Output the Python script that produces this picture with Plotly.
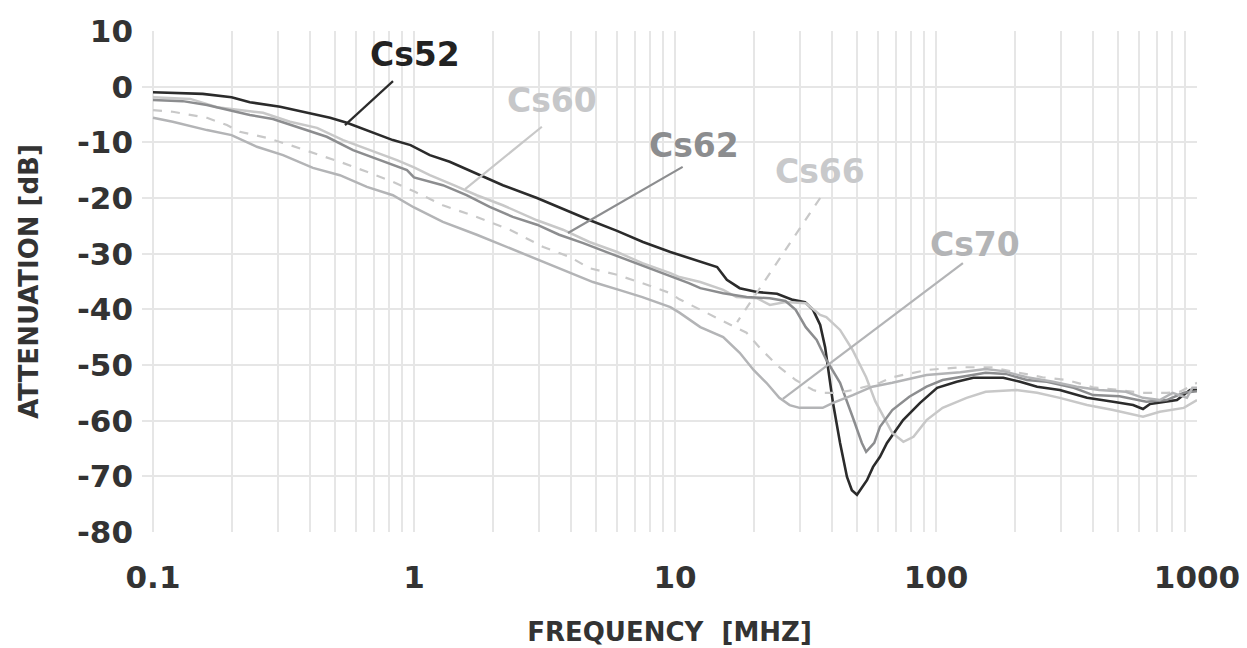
import math
import plotly.graph_objects as go

# ---------------- data ----------------
f_cs52 = [0.1, 0.155, 0.2, 0.235, 0.307, 0.376, 0.477, 0.553, 0.697, 0.83, 0.97, 1.15, 1.37, 1.68,
          2.19, 2.96, 3.72, 4.72, 6.0, 7.54, 9.6, 11.4, 12.5, 14.5, 15.8, 17.7, 20.6, 24.6, 28.3,
          31.5, 33.8, 36.0, 37.6, 38.6, 40.3, 42.9, 45.6, 47.6, 49.8, 54.4, 57.4, 61, 64.9, 74.8,
          86.9, 101, 120, 139, 181, 210, 244, 298, 379, 477, 569, 621, 661, 838, 940, 1000]
v_cs52 = [-1.0, -1.3, -1.9, -2.8, -3.6, -4.5, -5.6, -6.5, -8.3, -9.6, -10.5, -12.3, -13.5, -15.3,
          -17.7, -20.0, -22.0, -24.0, -25.9, -27.9, -29.7, -30.8, -31.5, -32.4, -34.7, -36.2, -36.9,
          -37.2, -38.3, -38.7, -40.1, -42.8, -46.8, -50.9, -56.8, -64.0, -70.1, -72.5, -73.3, -70.7,
          -68.3, -66.5, -64.0, -59.9, -56.8, -54.1, -53.0, -52.3, -52.3, -53.0, -53.9, -54.5, -55.9,
          -56.6, -57.2, -57.9, -57.0, -56.3, -54.5, -54.5]

f_cs60 = [0.1, 0.139, 0.176, 0.215, 0.264, 0.335, 0.425, 0.535, 0.68, 0.86, 1.0, 1.15, 1.42, 1.74,
          2.19, 2.96, 3.72, 4.7, 6.0, 7.5, 9.6, 10.4, 12.5, 15.3, 17.2, 20.6, 23.1, 26.5, 31.7, 36,
          38, 42.9, 47.9, 54, 58.5, 68, 75, 82, 92, 106, 131, 155, 203, 244, 298, 379, 477, 621,
          720, 890, 1000]
v_cs60 = [-1.9, -2.2, -3.7, -4.2, -4.7, -6.3, -7.4, -9.6, -11.4, -13.2, -14.5, -15.9, -17.7, -19.5,
          -21.3, -24.0, -25.7, -27.9, -29.7, -31.7, -33.5, -34.2, -35.1, -36.5, -37.8, -38.0, -39.2,
          -38.7, -38.9, -41.0, -41.4, -43.7, -47.3, -52.2, -56.5, -62.2, -63.8, -62.9, -59.9, -57.7,
          -55.9, -54.8, -54.5, -55.0, -55.9, -57.2, -58.1, -59.3, -58.4, -57.7, -56.3]

f_cs62 = [0.1, 0.13, 0.161, 0.192, 0.235, 0.288, 0.365, 0.463, 0.584, 0.741, 0.94, 1.0, 1.29, 1.59,
          1.95, 2.39, 2.96, 3.6, 4.45, 5.6, 7.1, 9.0, 11.3, 12.5, 15.3, 18.8, 23.1, 26.5, 29, 31.7,
          34.9, 38, 42.9, 47.9, 52, 54, 58, 61, 68, 79, 92, 106, 124, 155, 185, 223, 266, 337, 400,
          505, 640, 765, 890, 1000]
v_cs62 = [-2.4, -2.6, -3.3, -4.2, -5.1, -5.8, -7.4, -9.0, -11.4, -13.2, -15.0, -16.3, -17.7, -19.5,
          -21.6, -23.4, -24.8, -26.6, -28.1, -29.9, -31.7, -33.5, -35.3, -36.2, -37.1, -37.8, -38.0,
          -38.5, -40.1, -43.2, -45.5, -49.1, -53.2, -59.3, -64.0, -65.6, -64.0, -61.1, -58.1, -55.7,
          -53.9, -52.7, -52.2, -51.4, -51.6, -52.7, -53.0, -54.1, -55.4, -55.6, -56.6, -56.3, -55.0,
          -54.7]

f_cs66 = [0.1, 0.119, 0.161, 0.192, 0.215, 0.273, 0.335, 0.41, 0.52, 0.66, 0.83, 1.0, 1.29, 1.74,
          2.33, 3.13, 3.96, 4.7, 6.0, 7.5, 9.6, 10.4, 13.3, 16.2, 18.8, 21.5, 25.1, 29, 33.8, 36.8,
          41.7, 48, 61, 68, 92, 124, 163, 203, 256, 317, 400, 505, 621, 765, 860, 1000]
v_cs66 = [-4.2, -4.5, -5.6, -6.9, -8.1, -9.2, -10.5, -11.9, -13.5, -15.3, -17.1, -18.8, -21.3, -23.4,
          -25.7, -28.8, -30.6, -32.6, -33.8, -35.3, -37.1, -38.2, -40.7, -42.8, -44.2, -47.3, -50.4,
          -52.7, -54.5, -55.0, -55.0, -54.5, -53.2, -52.2, -50.9, -50.4, -50.4, -51.3, -52.2, -52.7,
          -54.0, -54.5, -55.0, -55.0, -54.8, -53.2]

f_cs70 = [0.1, 0.119, 0.161, 0.2, 0.25, 0.315, 0.41, 0.52, 0.66, 0.83, 1.0, 1.29, 1.74, 2.33, 3.13,
          3.96, 4.85, 6.1, 7.5, 9.6, 10.4, 12.5, 15.3, 17.7, 20, 22.4, 25.1, 27.5, 30, 36.8, 40.3,
          48, 57, 68, 92, 124, 155, 181, 223, 281, 346, 422, 534, 621, 720, 807, 915, 960, 1000]
v_cs70 = [-5.6, -6.3, -7.8, -8.7, -10.8, -12.3, -14.6, -15.9, -18.0, -19.5, -21.7, -24.3, -26.6,
          -29.0, -31.5, -33.5, -35.1, -36.5, -37.8, -39.6, -40.6, -43.2, -45.0, -47.8, -50.9, -53.2,
          -55.9, -57.2, -57.7, -57.7, -56.8, -55.4, -53.9, -53.2, -51.8, -51.3, -50.7, -51.1, -52.2,
          -53.0, -53.9, -54.5, -54.8, -55.9, -56.3, -55.0, -55.9, -54.1, -54.1]

series_names = ["Cs52", "Cs60", "Cs62", "Cs66", "Cs70"]
series_f = [f_cs52, f_cs60, f_cs62, f_cs66, f_cs70]
series_v = [v_cs52, v_cs60, v_cs62, v_cs66, v_cs70]

# label text position (freq MHz, dB) and leader line endpoints
label_f = [1.01, 3.38, 11.8, 36.0, 141]
label_v = [5.7, -2.4, -10.5, -15.3, -28.3]
leader_f = [[0.831, 0.544], [3.09, 1.57], [10.7, 3.89], [36.0, 17.3], [126.8, 25.9]]
leader_v = [[1.0, -6.9], [-7.2, -18.4], [-14.4, -26.3], [-20.0, -42.3], [-31.7, -56.1]]

x_tick_vals = [m * 10 ** e for e in range(-1, 3) for m in range(1, 10)] + [1000]
x_tick_major = ["0.1", "1", "10", "100", "1000"]
y_ticks = [10, 0, -10, -20, -30, -40, -50, -60, -70, -80]
y_tick_text = ["10", "0", "-10", "-20", "-30", "-40", "-50", "-60", "-70", "-80"]

# ---------------- styles ----------------
colors = ["#2b2b2b", "#c8c8c8", "#8c8d8f", "#c8c8c8", "#b3b4b6"]
text_colors = ["#222222", "#c6c7c9", "#8c8d8f", "#c8c9cb", "#b3b4b6"]
dashes = ["solid", "solid", "solid", "dash", "solid"]
widths = [2.6, 2.5, 2.5, 2.2, 2.5]
FONT = "DejaVu Sans"

fig = go.Figure()
for name, fx, vy, c, d, w in zip(series_names, series_f, series_v, colors, dashes, widths):
    fig.add_trace(go.Scatter(x=fx, y=vy, mode="lines", name=name,
                             line=dict(color=c, width=w, dash=d), showlegend=False))

for name, lf, lv, c, d in zip(series_names, leader_f, leader_v, colors, dashes):
    fig.add_trace(go.Scatter(x=lf, y=lv, mode="lines", line=dict(color=c, width=2.2, dash=d),
                             showlegend=False, hoverinfo="skip"))

for name, lf, lv, tc in zip(series_names, label_f, label_v, text_colors):
    fig.add_annotation(x=math.log10(lf), y=lv, text=name, showarrow=False,
                       font=dict(family=FONT, size=33, color=tc, weight="bold"),
                       xanchor="center", yanchor="middle")

tick_text = []
for v in x_tick_vals:
    lbl = ""
    for t in x_tick_major:
        if abs(float(t) - v) < 1e-9:
            lbl = t
    tick_text.append(lbl)

fig.update_layout(
    width=1247, height=648,
    margin=dict(l=142, r=50, t=31, b=116, autoexpand=False),
    plot_bgcolor="white", paper_bgcolor="white",
    font=dict(family=FONT, color="#333333"),
    xaxis=dict(type="log", range=[-1.0421, 3.0], tickvals=x_tick_vals, ticktext=tick_text,
               showgrid=True, gridcolor="#e6e6e6", gridwidth=1.5, zeroline=False,
               showline=False, ticks="", ticklabelstandoff=24, automargin=False,
               tickfont=dict(family=FONT, size=31, color="#333333", weight="bold"),
               title=dict(text="FREQUENCY\u00a0\u00a0[MHZ]", standoff=28,
                          font=dict(family=FONT, size=26, color="#333333", weight="bold"))),
    yaxis=dict(range=[-80, 10], tickvals=y_ticks, ticktext=y_tick_text, showgrid=True,
               gridcolor="#e6e6e6", automargin=False,
               gridwidth=1.5, zeroline=False, showline=False, ticks="", ticklabelstandoff=8,
               tickfont=dict(family=FONT, size=31, color="#333333", weight="bold"),
               title=dict(text="ATTENUATION [dB]", standoff=30,
                          font=dict(family=FONT, size=26, color="#333333", weight="bold"))),
)

fig.write_html("out.html", config={"displayModeBar": False},
               post_script="document.body.style.margin='0px';")
